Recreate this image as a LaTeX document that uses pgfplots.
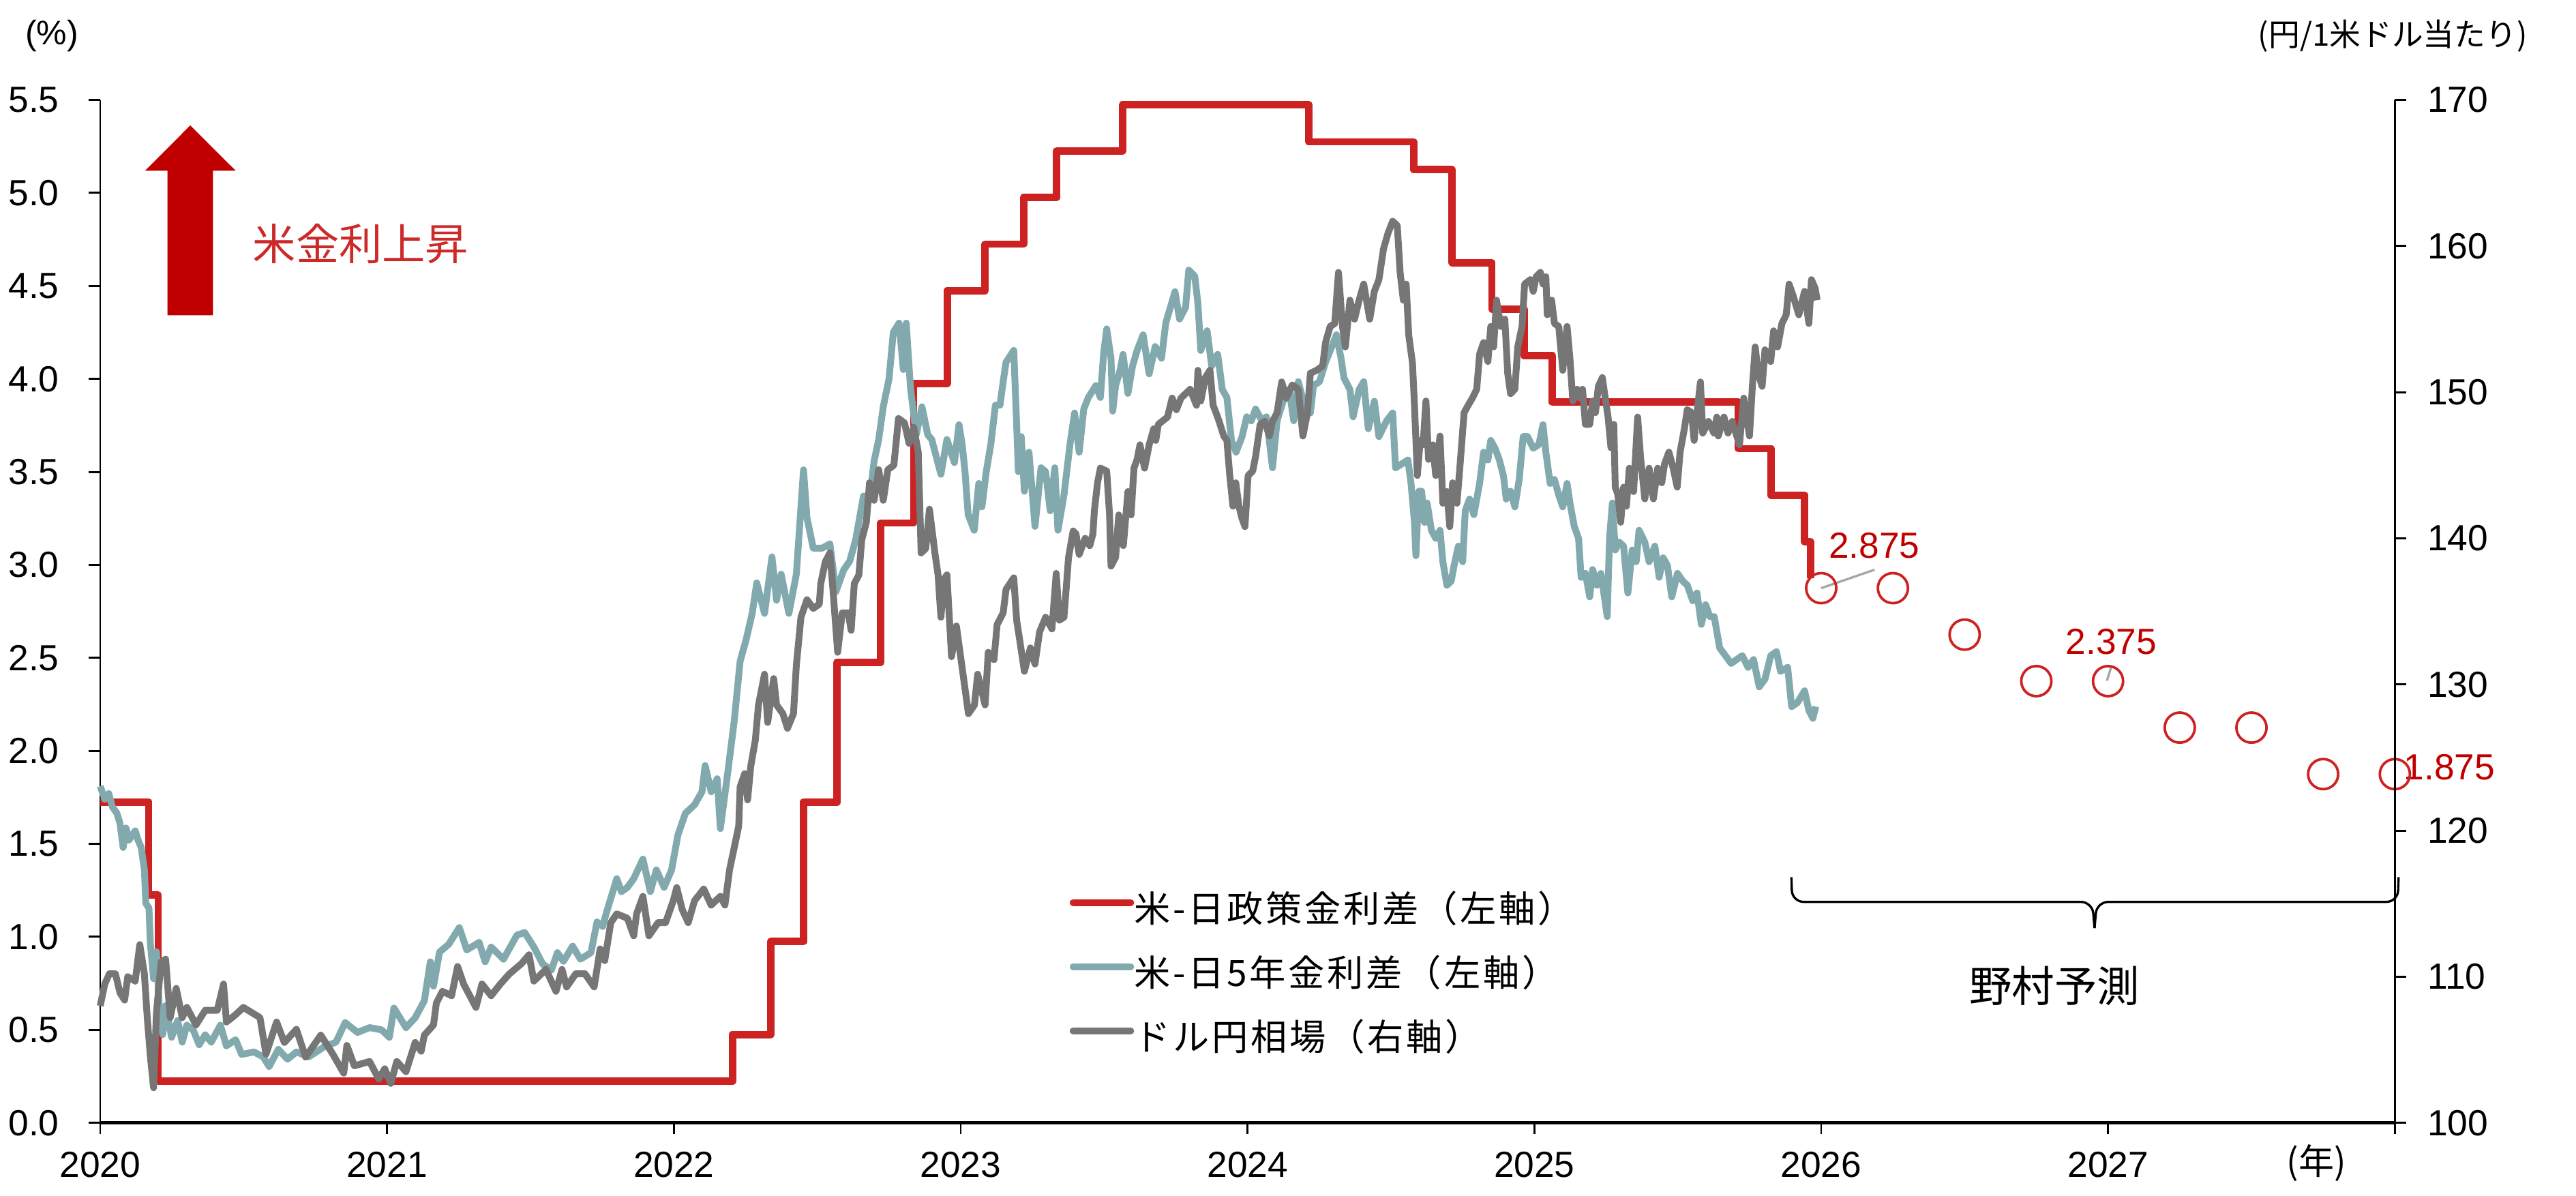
\documentclass[border=0pt]{standalone}
\usepackage{fontspec}
\setmainfont{Liberation Sans}
\newfontfamily\jp{Noto Sans CJK JP}
\newfontfamily\jpwide[LetterSpace=7]{Noto Sans CJK JP}
\usepackage{pgfplots}
\pgfplotsset{compat=1.18}
\definecolor{polred}{HTML}{CC2222}
\definecolor{teal5}{HTML}{82AAAE}
\definecolor{fxgray}{HTML}{767676}
\definecolor{darkred}{HTML}{C00000}
\definecolor{txtred}{HTML}{CC2929}
\definecolor{leader}{HTML}{A6A6A6}
\begin{document}
\begin{tikzpicture}
\pgfplotsset{
  common/.style={
    at={(0pt,0pt)}, anchor=south west,
    scale only axis, width=808.3pt, height=360.3pt,
    xmin=2020, xmax=2028,
    tick align=outside, major tick length=4pt,
    every tick/.style={black, line width=0.7pt},
    ticklabel style={font=\fontsize{12.8}{15}\selectfont},
    /pgf/number format/assume math mode=true,
    y axis line style={line width=0.7pt},
    clip=false,
  }
}
\begin{axis}[common,
  ymin=0, ymax=5.5,
  axis x line*=bottom, axis y line*=left,
  x axis line style={line width=1.3pt},
  xtick={2020,2021,2022,2023,2024,2025,2026,2027,2028},
  xticklabels={2020,2021,2022,2023,2024,2025,2026,2027,{}},
  xticklabel style={yshift=-2.7pt},
  ytick={0,0.5,1,1.5,2,2.5,3,3.5,4,4.5,5,5.5},
  yticklabel style={/pgf/number format/fixed, /pgf/number format/fixed zerofill, /pgf/number format/precision=1, xshift=-7pt},
]
% policy rate spread (step)
\addplot[const plot, color=polred, line width=2.6pt, line join=round] coordinates {
(2020.000,1.725) (2020.169,1.225) (2020.202,0.225) (2022.204,0.475) (2022.338,0.975)
(2022.452,1.725) (2022.568,2.475) (2022.721,3.225) (2022.836,3.975) (2022.953,4.475)
(2023.085,4.725) (2023.219,4.975) (2023.334,5.225) (2023.564,5.475) (2024.213,5.275)
(2024.579,5.125) (2024.713,4.625) (2024.852,4.375) (2024.964,4.125) (2025.063,3.875)
(2025.711,3.625) (2025.826,3.375) (2025.942,3.125) (2025.963,2.93)
};
% 5y spread
\addplot[color=teal5, line width=2.4pt, line join=round] coordinates {
(2020.000,1.81) (2020.016,1.74) (2020.030,1.77) (2020.042,1.70) (2020.058,1.665) (2020.069,1.61)
(2020.080,1.48) (2020.090,1.585) (2020.100,1.52) (2020.122,1.57) (2020.132,1.52) (2020.143,1.48)
(2020.154,1.36) (2020.159,1.18) (2020.170,1.155) (2020.175,0.96) (2020.186,0.775) (2020.196,0.92)
(2020.207,0.59) (2020.218,0.475) (2020.228,0.63) (2020.249,0.46) (2020.270,0.55) (2020.286,0.434)
(2020.302,0.525) (2020.324,0.50) (2020.345,0.42) (2020.366,0.473) (2020.387,0.434) (2020.419,0.525)
(2020.440,0.414) (2020.472,0.447) (2020.493,0.368) (2020.536,0.381) (2020.568,0.355) (2020.589,0.303)
(2020.621,0.395) (2020.653,0.342) (2020.684,0.381) (2020.727,0.355) (2020.780,0.408) (2020.822,0.434)
(2020.854,0.539) (2020.897,0.486) (2020.939,0.512) (2020.981,0.500) (2021.008,0.460) (2021.024,0.617)
(2021.045,0.565) (2021.066,0.512) (2021.098,0.565) (2021.130,0.656) (2021.151,0.866) (2021.162,0.735)
(2021.183,0.918) (2021.215,0.960) (2021.252,1.050) (2021.278,0.930) (2021.321,0.970) (2021.342,0.866)
(2021.363,0.945) (2021.406,0.880) (2021.453,1.010) (2021.480,1.023) (2021.512,0.945) (2021.543,0.853)
(2021.573,0.822) (2021.594,0.915) (2021.615,0.869) (2021.647,0.950) (2021.674,0.880) (2021.711,0.915)
(2021.732,1.080) (2021.752,1.056) (2021.764,1.126) (2021.801,1.313) (2021.817,1.243) (2021.838,1.266)
(2021.860,1.313) (2021.892,1.418) (2021.918,1.243) (2021.939,1.360) (2021.966,1.266) (2021.992,1.360)
(2022.014,1.547) (2022.040,1.664) (2022.072,1.710) (2022.098,1.780) (2022.109,1.921) (2022.130,1.780)
(2022.151,1.850) (2022.162,1.582) (2022.189,1.897) (2022.210,2.155) (2022.231,2.482) (2022.252,2.599)
(2022.273,2.739) (2022.289,2.903) (2022.316,2.739) (2022.342,3.043) (2022.358,2.810) (2022.374,2.950)
(2022.401,2.739) (2022.427,2.950) (2022.452,3.511) (2022.464,3.253) (2022.486,3.090) (2022.517,3.090)
(2022.544,3.113) (2022.565,2.856) (2022.592,2.973) (2022.613,3.020) (2022.634,3.137) (2022.661,3.370)
(2022.682,3.347) (2022.698,3.557) (2022.714,3.674) (2022.730,3.85) (2022.750,4.00) (2022.765,4.25)
(2022.785,4.30) (2022.800,4.05) (2022.810,4.30) (2022.825,3.95) (2022.845,3.70) (2022.865,3.85)
(2022.885,3.70) (2022.899,3.674) (2022.931,3.487) (2022.952,3.674) (2022.978,3.55) (2022.994,3.754)
(2023.005,3.648) (2023.015,3.501) (2023.026,3.270) (2023.047,3.186) (2023.063,3.438) (2023.074,3.312)
(2023.089,3.501) (2023.105,3.648) (2023.121,3.859) (2023.137,3.859) (2023.148,3.985) (2023.158,4.090)
(2023.185,4.153) (2023.195,3.754) (2023.201,3.501) (2023.211,3.690) (2023.222,3.396) (2023.238,3.606)
(2023.259,3.207) (2023.280,3.522) (2023.296,3.501) (2023.312,3.291) (2023.328,3.522) (2023.339,3.186)
(2023.360,3.375) (2023.381,3.648) (2023.397,3.817) (2023.413,3.606) (2023.429,3.838) (2023.445,3.900)
(2023.471,3.964) (2023.487,3.900) (2023.498,4.132) (2023.509,4.269) (2023.524,4.111) (2023.530,3.827)
(2023.540,3.964) (2023.556,4.048) (2023.566,4.132) (2023.583,3.922) (2023.599,4.069) (2023.615,4.153)
(2023.636,4.237) (2023.657,4.027) (2023.678,4.174) (2023.700,4.111) (2023.715,4.301) (2023.731,4.385)
(2023.747,4.469) (2023.763,4.322) (2023.784,4.385) (2023.795,4.585) (2023.816,4.553) (2023.827,4.406)
(2023.837,4.153) (2023.859,4.259) (2023.875,4.069) (2023.896,4.132) (2023.912,3.943) (2023.928,3.900)
(2023.944,3.669) (2023.960,3.606) (2023.981,3.690) (2023.997,3.796) (2024.013,3.775) (2024.028,3.838)
(2024.050,3.775) (2024.066,3.796) (2024.087,3.522) (2024.103,3.775) (2024.124,3.880) (2024.145,3.943)
(2024.161,3.775) (2024.177,3.985) (2024.198,3.859) (2024.219,3.817) (2024.230,3.964) (2024.251,3.985)
(2024.272,4.090) (2024.294,4.174) (2024.310,4.237) (2024.326,4.111) (2024.336,4.006) (2024.357,3.943)
(2024.368,3.796) (2024.389,3.943) (2024.405,3.985) (2024.421,3.732) (2024.442,3.880) (2024.458,3.690)
(2024.485,3.775) (2024.506,3.817) (2024.516,3.522) (2024.538,3.543) (2024.559,3.564) (2024.570,3.438)
(2024.582,3.228) (2024.587,3.049) (2024.597,3.396) (2024.607,3.396) (2024.617,3.228) (2024.626,3.333)
(2024.641,3.186) (2024.656,3.143) (2024.671,3.186) (2024.681,3.017) (2024.695,2.891) (2024.710,2.912)
(2024.720,2.996) (2024.735,3.101) (2024.750,3.017) (2024.759,3.291) (2024.774,3.354) (2024.789,3.270)
(2024.809,3.438) (2024.823,3.606) (2024.838,3.564) (2024.848,3.669) (2024.863,3.627) (2024.878,3.564)
(2024.892,3.480) (2024.902,3.354) (2024.917,3.396) (2024.932,3.312) (2024.947,3.459) (2024.961,3.690)
(2024.976,3.690) (2024.996,3.627) (2025.016,3.648) (2025.030,3.754) (2025.040,3.606) (2025.055,3.438)
(2025.070,3.459) (2025.085,3.375) (2025.099,3.312) (2025.114,3.438) (2025.124,3.333) (2025.139,3.207)
(2025.154,3.143) (2025.163,2.933) (2025.178,2.954) (2025.193,2.828) (2025.203,2.975) (2025.218,2.891)
(2025.232,2.954) (2025.242,2.849) (2025.254,2.722) (2025.262,3.143) (2025.272,3.333) (2025.282,3.080)
(2025.296,3.122) (2025.311,3.101) (2025.326,2.849) (2025.341,3.080) (2025.355,3.017) (2025.365,3.186)
(2025.385,3.122) (2025.400,3.017) (2025.420,3.101) (2025.435,2.933) (2025.449,3.038) (2025.464,2.996)
(2025.479,2.828) (2025.499,2.954) (2025.518,2.912) (2025.533,2.891) (2025.552,2.807) (2025.567,2.849)
(2025.582,2.680) (2025.597,2.786) (2025.612,2.722) (2025.627,2.722) (2025.646,2.554) (2025.666,2.512)
(2025.686,2.470) (2025.705,2.491) (2025.725,2.512) (2025.745,2.449) (2025.764,2.491) (2025.784,2.344)
(2025.804,2.386) (2025.824,2.512) (2025.844,2.533) (2025.858,2.428) (2025.883,2.449) (2025.897,2.238)
(2025.917,2.259) (2025.942,2.323) (2025.957,2.217) (2025.971,2.175) (2025.981,2.238)
};
% forecast
\addplot[only marks, mark=o, mark size=5.3pt, mark options={draw=polred, line width=0.9pt}] coordinates {
(2026.00,2.875) (2026.25,2.875) (2026.50,2.625) (2026.75,2.375) (2027.00,2.375)
(2027.25,2.125) (2027.50,2.125) (2027.75,1.875) (2028.00,1.875)
};
% annotations
\draw[leader, line width=0.8pt] (axis cs:2026.0,2.875) -- (axis cs:2026.186,2.974);
\draw[leader, line width=0.8pt] (axis cs:2026.996,2.377) -- (axis cs:2027.011,2.451);
\node[text=darkred, font=\fontsize{12.8}{15}\selectfont, inner sep=0pt] at (axis cs:2026.185,3.105) {2.875};
\node[text=darkred, font=\fontsize{12.8}{15}\selectfont, inner sep=0pt] at (axis cs:2027.011,2.586) {2.375};
\node[text=darkred, font=\fontsize{12.8}{15}\selectfont, inner sep=0pt] at (axis cs:2028.19,1.913) {1.875};
% arrow
\fill[darkred] (axis cs:2020.2348,4.342) -- (axis cs:2020.2348,5.119) -- (axis cs:2020.1564,5.119)
  -- (axis cs:2020.3139,5.363) -- (axis cs:2020.4725,5.119) -- (axis cs:2020.3929,5.119)
  -- (axis cs:2020.3929,4.342) -- cycle;
\node[anchor=west, inner sep=0pt, text=txtred, font=\jp\fontsize{15.2}{18}\selectfont] at (axis cs:2020.530,4.727) {米金利上昇};
% brace
\draw[black, line width=0.8pt, rounded corners=4pt] (axis cs:2025.896,1.321) -- (axis cs:2025.899,1.188) -- (axis cs:2026.945,1.188) -- (axis cs:2026.953,1.047);
\draw[black, line width=0.8pt, rounded corners=4pt] (axis cs:2028.013,1.321) -- (axis cs:2028.010,1.188) -- (axis cs:2026.961,1.188) -- (axis cs:2026.953,1.047);
\node[inner sep=0pt, font=\jp\fontsize{15}{18}\selectfont] at (axis cs:2026.813,0.738) {野村予測};
% units
\node[inner sep=0pt, font=\fontsize{12}{14}\selectfont] at (axis cs:2019.831,5.843) {(\%)};
\node[inner sep=0pt, font=\jp\fontsize{11}{13}\selectfont] at (axis cs:2027.993,5.843) {(円/1米ドル当たり)};
\node[inner sep=0pt, font=\jp\fontsize{12.5}{14}\selectfont] at (axis cs:2027.726,-0.216) {(年)};
\end{axis}
\begin{axis}[common,
  ymin=100, ymax=170,
  axis x line=none, axis y line*=right,
  ytick={100,110,120,130,140,150,160,170},
  yticklabel style={xshift=4pt},
  legend style={at={(0.4225,0.2227)}, anchor=north west, draw=none, fill=none,
    inner sep=0pt, outer sep=0pt, row sep=10.1pt,
    font=\jpwide\fontsize{12.8}{14}\selectfont,
    nodes={inner sep=0pt, text height=9.5pt, text depth=3pt}},
  legend cell align=left,
  legend image code/.code={\draw[#1, line width=2.4pt, line cap=round] (1.2pt,3.6pt) -- (21.5pt,3.6pt);},
]
\addlegendimage{color=polred}
\addlegendentry{米-日政策金利差（左軸）}
\addlegendimage{color=teal5}
\addlegendentry{米-日5年金利差（左軸）}
\addplot[color=fxgray, line width=2.4pt, line join=round] coordinates {
(2020.000,108.0) (2020.016,109.5) (2020.032,110.2) (2020.053,110.2) (2020.069,108.9) (2020.085,108.4)
(2020.096,110.0) (2020.122,109.7) (2020.138,112.2) (2020.154,110.2) (2020.164,107.2) (2020.175,104.5)
(2020.186,102.4) (2020.196,107.5) (2020.212,111.0) (2020.228,111.2) (2020.244,107.2) (2020.265,109.2)
(2020.286,107.2) (2020.302,107.9) (2020.334,106.7) (2020.366,107.7) (2020.408,107.7) (2020.430,109.5)
(2020.440,106.9) (2020.472,107.4) (2020.499,107.9) (2020.557,107.2) (2020.578,104.7) (2020.615,106.9)
(2020.642,105.5) (2020.684,106.4) (2020.716,104.5) (2020.769,106.0) (2020.811,104.7) (2020.849,103.4)
(2020.860,105.3) (2020.886,103.9) (2020.939,104.2) (2020.971,103.0) (2020.992,103.7) (2021.013,102.7)
(2021.034,104.2) (2021.066,103.5) (2021.098,105.5) (2021.119,104.9) (2021.130,106.0) (2021.162,106.7)
(2021.172,108.2) (2021.193,109.0) (2021.225,108.7) (2021.246,110.7) (2021.267,109.5) (2021.310,107.9)
(2021.331,109.5) (2021.363,108.7) (2021.395,109.5) (2021.427,110.2) (2021.469,110.9) (2021.495,111.5)
(2021.512,109.7) (2021.554,110.5) (2021.589,109.0) (2021.610,110.5) (2021.626,109.3) (2021.658,110.2)
(2021.690,110.2) (2021.722,109.3) (2021.743,111.9) (2021.759,111.1) (2021.780,113.7) (2021.801,114.3)
(2021.838,114.0) (2021.860,112.8) (2021.870,114.3) (2021.892,115.5) (2021.913,112.8) (2021.945,113.7)
(2021.971,113.7) (2021.998,115.2) (2022.010,116.1) (2022.029,114.6) (2022.050,113.7) (2022.072,115.2)
(2022.104,116.0) (2022.130,114.9) (2022.162,115.5) (2022.178,114.9) (2022.194,117.3) (2022.210,118.8)
(2022.226,120.3) (2022.231,123.0) (2022.247,123.9) (2022.257,122.1) (2022.268,124.4) (2022.284,126.2)
(2022.295,128.6) (2022.316,130.7) (2022.327,127.4) (2022.348,130.4) (2022.358,128.6) (2022.380,128.0)
(2022.396,127.0) (2022.417,128.0) (2022.427,131.3) (2022.443,134.6) (2022.464,135.8) (2022.486,135.2)
(2022.507,135.5) (2022.512,136.9) (2022.528,138.4) (2022.544,139.0) (2022.555,136.4) (2022.571,132.2)
(2022.587,134.9) (2022.608,134.9) (2022.618,133.7) (2022.629,136.9) (2022.645,137.5) (2022.655,139.9)
(2022.671,141.1) (2022.682,143.8) (2022.698,142.6) (2022.714,144.7) (2022.730,142.6) (2022.746,144.7)
(2022.767,145.0) (2022.783,148.2) (2022.804,147.9) (2022.820,146.5) (2022.836,147.6) (2022.852,145.9)
(2022.862,139.0) (2022.878,139.3) (2022.891,142.0) (2022.910,139.0) (2022.921,137.5) (2022.931,134.6)
(2022.942,137.2) (2022.952,137.5) (2022.968,131.9) (2022.985,134.0) (2023.006,131.0) (2023.027,128.0)
(2023.048,128.6) (2023.059,130.7) (2023.085,128.6) (2023.096,132.2) (2023.116,131.7) (2023.127,134.1)
(2023.148,134.9) (2023.158,136.5) (2023.185,137.3) (2023.195,134.4) (2023.206,133.0) (2023.222,130.9)
(2023.243,132.5) (2023.259,131.4) (2023.275,133.6) (2023.296,134.6) (2023.318,133.8) (2023.333,137.6)
(2023.344,134.4) (2023.360,134.6) (2023.376,138.7) (2023.392,140.5) (2023.402,140.3) (2023.413,138.9)
(2023.434,140.0) (2023.450,139.5) (2023.461,140.3) (2023.466,141.9) (2023.477,143.8) (2023.487,144.8)
(2023.509,144.6) (2023.519,141.6) (2023.524,138.1) (2023.540,138.7) (2023.551,141.6) (2023.567,139.5)
(2023.583,143.2) (2023.594,141.6) (2023.604,144.8) (2023.615,145.4) (2023.625,146.4) (2023.641,144.8)
(2023.657,146.4) (2023.673,147.5) (2023.680,146.7) (2023.689,147.8) (2023.721,148.3) (2023.737,149.6)
(2023.752,148.8) (2023.768,149.6) (2023.784,149.9) (2023.800,150.2) (2023.822,149.1) (2023.827,151.5)
(2023.837,149.4) (2023.853,151.0) (2023.869,151.5) (2023.880,149.1) (2023.890,148.6) (2023.901,148.0)
(2023.917,147.0) (2023.928,146.7) (2023.938,144.3) (2023.949,142.2) (2023.959,143.8) (2023.970,142.2)
(2023.980,141.4) (2023.991,140.8) (2024.002,144.3) (2024.018,144.6) (2024.028,145.6) (2024.044,147.8)
(2024.060,148.0) (2024.076,147.0) (2024.087,148.0) (2024.103,148.6) (2024.119,150.7) (2024.135,149.6)
(2024.156,150.5) (2024.177,150.2) (2024.193,147.0) (2024.209,148.6) (2024.219,151.3) (2024.241,151.5)
(2024.262,151.8) (2024.272,153.4) (2024.288,154.5) (2024.304,154.7) (2024.317,158.2) (2024.331,154.5)
(2024.341,153.1) (2024.357,156.3) (2024.373,155.0) (2024.389,156.3) (2024.405,157.4) (2024.426,155.0)
(2024.442,156.9) (2024.458,157.7) (2024.474,159.8) (2024.490,160.9) (2024.506,161.7) (2024.522,161.4)
(2024.532,158.2) (2024.543,156.3) (2024.553,157.4) (2024.562,153.9) (2024.575,152.0) (2024.582,149.1)
(2024.592,144.3) (2024.602,146.7) (2024.612,146.4) (2024.622,149.4) (2024.631,145.4) (2024.646,146.4)
(2024.656,144.3) (2024.671,147.0) (2024.681,142.4) (2024.695,143.2) (2024.705,140.8) (2024.715,143.8)
(2024.730,142.4) (2024.740,144.8) (2024.755,148.6) (2024.769,149.1) (2024.784,149.6) (2024.799,150.2)
(2024.809,152.6) (2024.823,153.4) (2024.838,152.1) (2024.848,154.5) (2024.858,153.1) (2024.868,156.3)
(2024.883,154.5) (2024.897,155.0) (2024.907,151.3) (2024.917,149.9) (2024.932,150.2) (2024.942,153.1)
(2024.957,154.5) (2024.966,157.4) (2024.986,157.7) (2024.996,156.9) (2025.006,157.9) (2025.021,158.2)
(2025.030,157.4) (2025.040,157.9) (2025.045,155.3) (2025.060,156.3) (2025.070,154.7) (2025.085,154.5)
(2025.099,151.5) (2025.114,154.5) (2025.124,152.3) (2025.134,149.4) (2025.149,150.2) (2025.159,149.6)
(2025.168,150.2) (2025.178,147.8) (2025.193,147.8) (2025.203,149.4) (2025.213,148.6) (2025.223,150.4)
(2025.237,151.0) (2025.247,149.6) (2025.257,148.3) (2025.267,146.2) (2025.277,147.8) (2025.282,143.5)
(2025.291,143.0) (2025.301,141.1) (2025.311,143.5) (2025.321,142.2) (2025.331,144.8) (2025.346,143.2)
(2025.360,148.3) (2025.370,145.6) (2025.385,142.7) (2025.400,144.8) (2025.415,142.7) (2025.430,144.8)
(2025.444,143.8) (2025.454,145.1) (2025.469,145.9) (2025.484,144.8) (2025.498,143.5) (2025.508,145.9)
(2025.523,147.5) (2025.533,148.8) (2025.548,148.6) (2025.557,146.7) (2025.567,148.6) (2025.579,150.7)
(2025.587,147.2) (2025.607,148.0) (2025.626,147.2) (2025.636,148.3) (2025.641,147.0) (2025.661,148.3)
(2025.675,147.2) (2025.690,148.0) (2025.715,146.4) (2025.730,149.6) (2025.750,147.0) (2025.760,150.4)
(2025.770,153.1) (2025.780,151.3) (2025.794,150.4) (2025.804,152.9) (2025.824,152.1) (2025.834,154.2)
(2025.848,153.1) (2025.863,154.7) (2025.878,155.3) (2025.888,157.4) (2025.902,156.6) (2025.922,155.3)
(2025.942,156.9) (2025.957,154.7) (2025.966,157.7) (2025.979,157.1) (2025.986,156.3)
};
\addlegendentry{ドル円相場（右軸）}
\end{axis}
\pgfresetboundingbox
\path[use as bounding box] (-35.3pt,-25.75pt) rectangle (872.1pt,395.5pt);
\end{tikzpicture}
\end{document}
